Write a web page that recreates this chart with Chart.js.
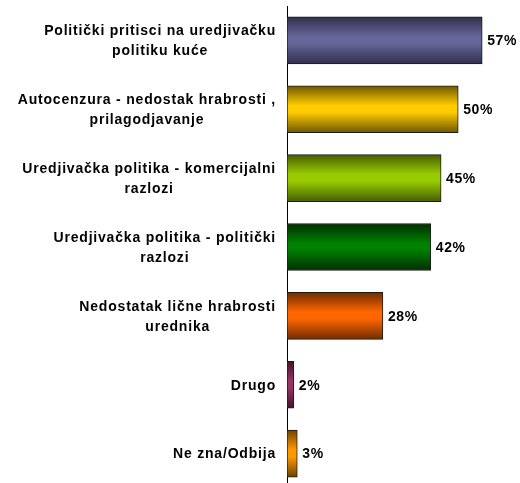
<!DOCTYPE html>
<html>
<head>
<meta charset="utf-8">
<script src="https://cdn.jsdelivr.net/npm/chart.js@4/dist/chart.umd.min.js"></script>
<style>
  html, body { margin: 0; padding: 0; background: #fff; overflow: hidden; }
  #wrap { width: 520px; height: 490px; }
</style>
</head>
<body>
<div id="wrap"><canvas id="chart"></canvas></div>
<script>
// kategorije (svaka linija posebno)
const categories = [
    ['Politički pritisci na uredjivačku', 'politiku kuće'],
    ['Autocenzura - nedostak hrabrosti ,', 'prilagodjavanje'],
    ['Uredjivačka politika - komercijalni', 'razlozi'],
    ['Uredjivačka politika - politički', 'razlozi'],
    ['Nedostatak lične hrabrosti', 'urednika'],
    ['Drugo'],
    ['Ne zna/Odbija']
];
const values = [57, 50, 45, 42, 28, 2, 3];
// srednja (svijetla) i rubna (tamna) boja svakog stupca
const midColors = ['#666699', '#ffcc00', '#99cc00', '#008000', '#ff6600', '#993366', '#ff9900'];
const edgeColors = ['#30304c', '#6e5800', '#475e00', '#002e00', '#702c00', '#40162b', '#704300'];

const BAR_H = 47;

function barGradient(ctx) {
    const chart = ctx.chart;
    const scale = chart.scales && chart.scales.y;
    if (!chart.chartArea || !scale) return midColors[ctx.dataIndex];
    const c = scale.getPixelForValue(ctx.dataIndex);
    const g = chart.ctx.createLinearGradient(0, c - BAR_H / 2, 0, c + BAR_H / 2);
    g.addColorStop(0, edgeColors[ctx.dataIndex]);
    g.addColorStop(0.42, midColors[ctx.dataIndex]);
    g.addColorStop(0.56, midColors[ctx.dataIndex]);
    g.addColorStop(1, edgeColors[ctx.dataIndex]);
    return g;
}

// crta nazive kategorija (centrirano, blok desno poravnat) i postotke
const labelPlugin = {
    id: 'labels',
    afterDatasetsDraw(chart) {
        const ctx = chart.ctx;
        const yScale = chart.scales.y;
        const xScale = chart.scales.x;
        ctx.save();
        ctx.fillStyle = '#000';
        ctx.font = 'bold 14px "Liberation Sans", Arial, sans-serif';
        ctx.letterSpacing = '0.8px';
        ctx.textBaseline = 'middle';
        ctx.textAlign = 'center';
        const right = 276;
        const lh = 20;
        categories.forEach((lines, i) => {
            const cy = yScale.getPixelForValue(i) + 1;
            const maxW = Math.max(...lines.map(l => ctx.measureText(l).width));
            const cx = right - maxW / 2;
            const y0 = cy - (lines.length - 1) * lh / 2;
            lines.forEach((l, k) => ctx.fillText(l, cx, y0 + k * lh));
        });
        ctx.textAlign = 'left';
        ctx.letterSpacing = '0.6px';
        values.forEach((v, i) => {
            const x = xScale.getPixelForValue(v) + 5;
            const y = yScale.getPixelForValue(i) + 1;
            ctx.fillText(v + '%', x, y);
        });
        ctx.restore();
    }
};

new Chart(document.getElementById('chart'), {
    type: 'bar',
    data: {
        labels: categories,
        datasets: [{
            data: values,
            backgroundColor: barGradient,
            borderColor: '#1a1a1a',
            borderWidth: 1,
            borderSkipped: false,
            barThickness: BAR_H
        }]
    },
    options: {
        indexAxis: 'y',
        responsive: true,
        maintainAspectRatio: false,
        animation: false,
        layout: { padding: { top: 6, bottom: 2, left: 0, right: 7 } },
        plugins: {
            legend: { display: false },
            tooltip: { enabled: false }
        },
        scales: {
            x: {
                display: false,
                min: 0,
                max: 66
            },
            y: {
                grid: { display: false, drawTicks: false },
                border: { display: true, color: '#000', width: 1 },
                ticks: { display: false },
                afterFit(scale) { scale.width = 287; }
            }
        }
    },
    plugins: [labelPlugin]
});
</script>
</body>
</html>
